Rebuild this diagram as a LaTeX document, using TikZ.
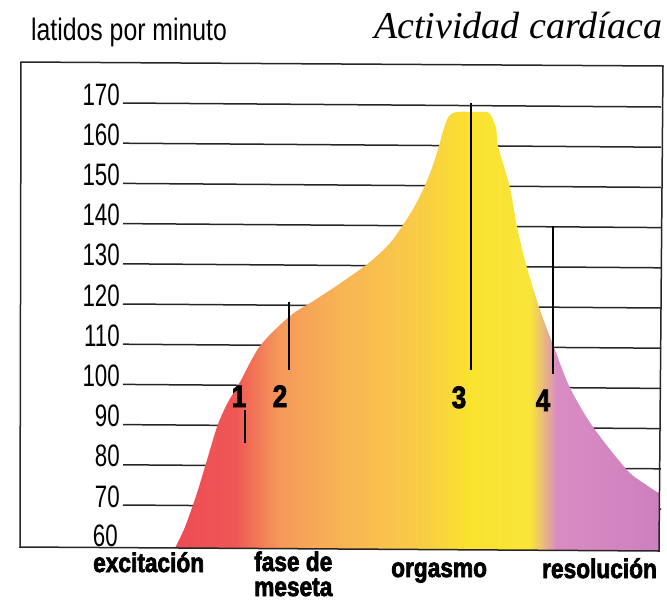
\documentclass[tikz,border=0pt]{standalone}
\usepackage{fontspec}
\newfontfamily\narrowsf{Liberation Sans}[FakeStretch=0.72]
\newfontfamily\headsf{Liberation Sans}[FakeStretch=0.8]
\newfontfamily\phasesf{Liberation Sans Bold}[FakeStretch=0.84,FakeBold=2.5]
\newfontfamily\titlefont{Liberation Serif Italic}
\usetikzlibrary{positioning}

\definecolor{hred}{HTML}{EC4654}
\definecolor{hredb}{HTML}{EF5855}
\definecolor{horange}{HTML}{F5985A}
\definecolor{horangeb}{HTML}{F8B654}
\definecolor{hgold}{HTML}{F9CC45}
\definecolor{hyellow}{HTML}{FAE32E}
\definecolor{hyellowb}{HTML}{F9E53A}
\definecolor{hpink}{HTML}{D98CC3}
\definecolor{hpinkb}{HTML}{CB7EBD}

\tikzset{
  rowline/.style={line width=1.5pt, black!85},
  scalelab/.style={anchor=base east, inner sep=0pt, font=\narrowsf\fontsize{31}{31}\selectfont},
  phase/.style={anchor=base west, inner sep=0pt, align=left, font=\phasesf\fontsize{27}{25}\selectfont},
  marker/.style={anchor=base, inner sep=0pt, font=\phasesf\fontsize{31}{31}\selectfont},
  tick/.style={line width=1.5pt, black}
}

\begin{document}
\begin{tikzpicture}[x=1pt,y=-1pt]
\useasboundingbox (0,0) rectangle (667,603);

% heading
\node [anchor=base west, inner sep=0pt, font=\headsf\fontsize{31}{31}\selectfont] (ylabel) at (31,40) {latidos por minuto};
\node [anchor=base east, inner sep=0pt, font=\titlefont\fontsize{38}{38}\selectfont] (title) at (663,38) {Actividad cardíaca};

% scale and rows
\foreach \v in {170,160,...,70} {
  \pgfmathsetmacro\yy{103+(170-\v)*4.02}
  \node [scalelab] (n\v) at (120,\yy+2) {\v};
  \draw [rowline] (123,\yy) -- (661,\yy+4);
}
\node [scalelab] (n60) at (118,546) {60};

% heart rate curve
\begin{scope}
\clip plot [smooth] coordinates {(175,548) (185,527) (197,493) (207,460) (217,427) (227,404) (240,382) (260,346) (290,316) (315,300) (345,280) (370,262) (390,243) (405,222) (417,202) (426,183) (433,165) (439,146) (444,128) (449,116) (457,112) (475,112) (489,113) (496,128) (498,146) (510,188) (517,227) (527,268) (540,310) (555,350) (570,388) (593,427) (627,470) (645,484) (660,494)} -- (659,551) -- cycle;
\foreach \xa/\xb/\ca/\cb in {150/235/hred/hredb, 235/278/hredb/horange, 278/345/horange/horangeb, 345/420/horangeb/hgold, 420/470/hgold/hyellow, 470/530/hyellow/hyellowb, 530/556/hyellowb/hpink, 556/670/hpink/hpinkb}
  \shade [left color=\ca, right color=\cb] (\xa,100) rectangle (\xb+1,560);
\end{scope}

% frame
\draw [rowline] (21,62) -- (663,66) -- (659,551) -- (20,547) -- cycle;

% phase markers
\node [marker] (m1) at (239,407) {1};
\node [marker] (m2) at (280,407) {2};
\node [marker] (m3) at (459,408) {3};
\node [marker] (m4) at (543,411) {4};
\coordinate (t1) at (245,443);
\coordinate (t2) at (289,302);
\coordinate (t3) at (471,103);
\coordinate (t4) at (553,226);
\draw [tick] ([yshift=-3pt]m1.south -| t1) -- (t1);
\draw [tick] (t2) -- ([yshift=15pt]m2.north -| t2);
\draw [tick] (t3) -- ([yshift=16pt]m3.north -| t3);
\draw [tick] (t4) -- ([yshift=15pt]m4.north -| t4);

% phases
\node [phase] (excit) at (93,572) {excitación};
\node [phase] (meseta) at (254,596) {fase de\\meseta};
\node [phase] (orgasmo) at (391,577) {orgasmo};
\node [phase] (resol) at (542,578) {resolución};
\end{tikzpicture}
\end{document}
